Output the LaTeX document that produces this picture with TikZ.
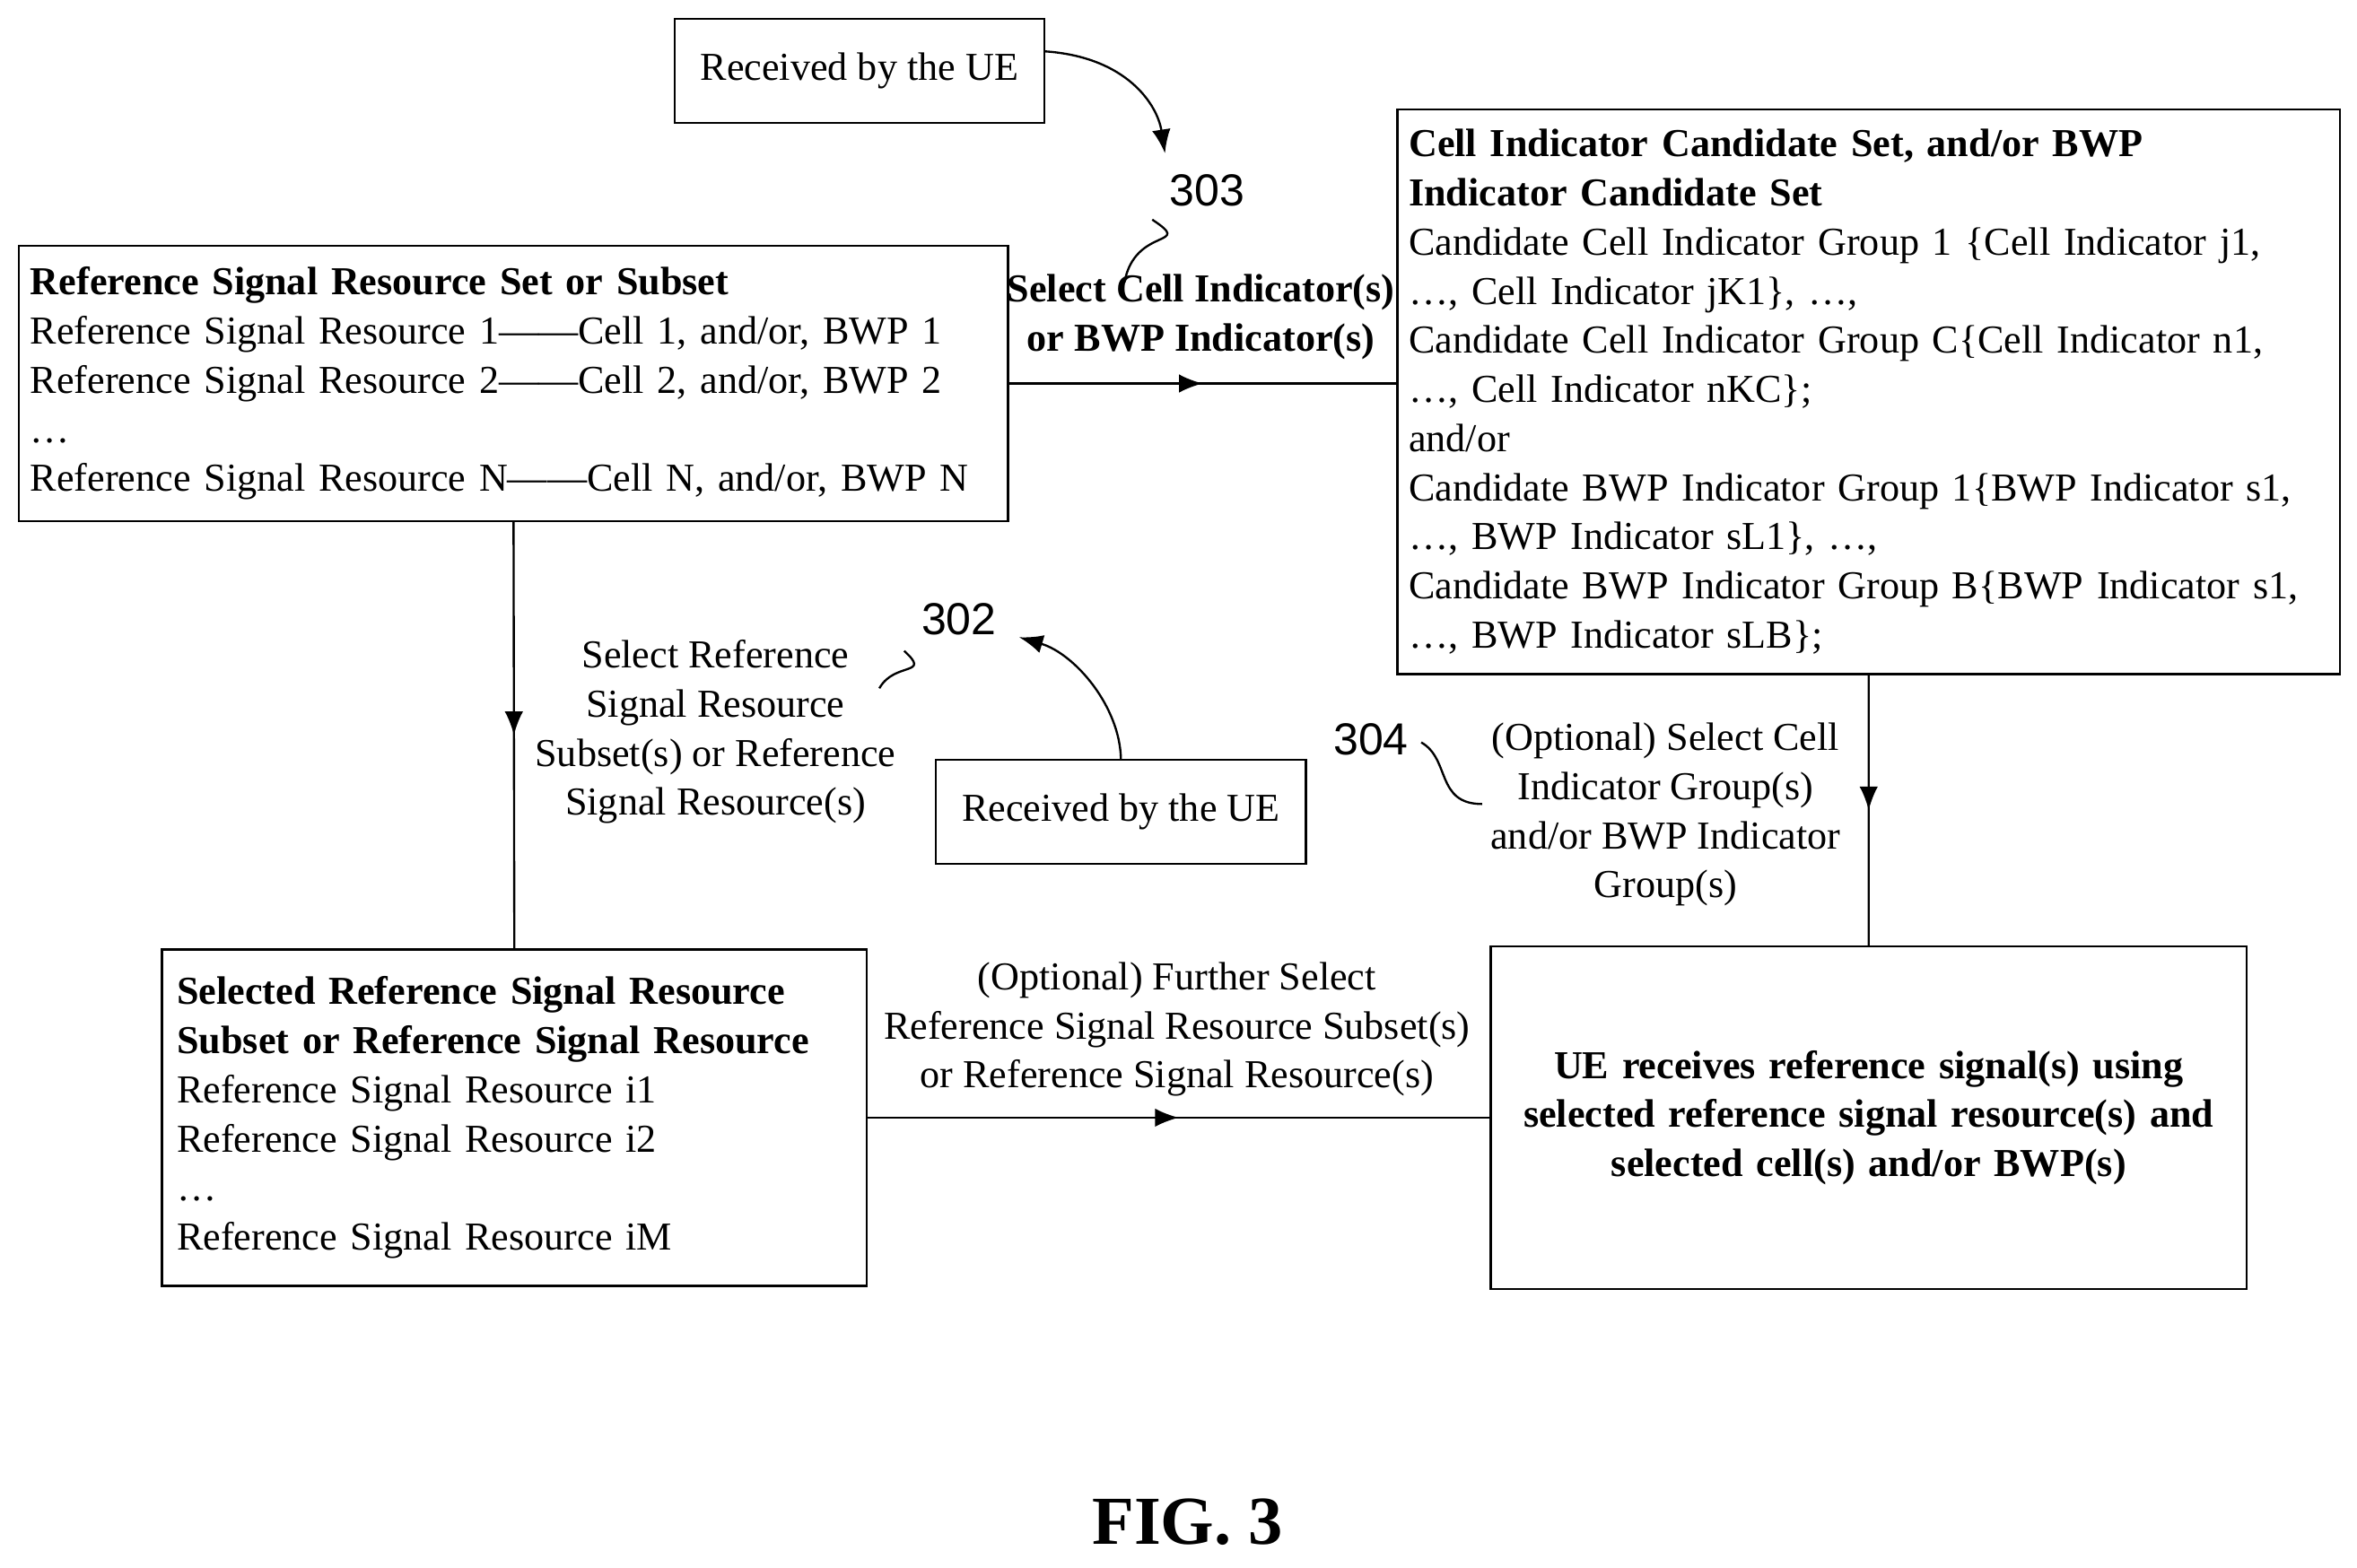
\documentclass[tikz,border=0pt]{standalone}
\usepackage{fontspec}
\setmainfont{Liberation Serif}
\setsansfont{Liberation Sans}
\usetikzlibrary{arrows.meta,decorations.markings}
\begin{document}
\begin{tikzpicture}[x=0.02cm,y=-0.02cm,line width=0.8pt,
    font=\fontsize{15}{18.6}\selectfont,
    box/.style={draw,anchor=north west,align=left,inner ysep=0pt},
    ue/.style={draw,anchor=north west,align=center,minimum width=4.92cm,minimum height=1.38cm},
    flow/.style={decoration={markings,mark=at position 0.5 with {\arrow{Latex[length=9pt,width=7pt]}}},postaction=decorate},
    lbl/.style={align=center,inner sep=1pt},
    num/.style={font=\sffamily\fontsize{17}{20}\selectfont}]
    \useasboundingbox (0,0) rectangle (1568,1043);

    % Boxes
    \node[box,text width=12.86cm,minimum height=3.66cm,inner xsep=0.15cm] (refset) at (12,163)
        {\textbf{Reference Signal Resource Set or Subset}\\
         Reference Signal Resource 1------Cell 1, and/or, BWP 1\\
         Reference Signal Resource 2------Cell 2, and/or, BWP 2\\
         \dots\\
         Reference Signal Resource N------Cell N, and/or, BWP N};
    \node[box,text width=12.24cm,minimum height=7.52cm,inner xsep=0.15cm] (cellset) at (929,72)
        {\textbf{Cell Indicator Candidate Set, and/or BWP}\\
         \textbf{Indicator Candidate Set}\\
         Candidate Cell Indicator Group 1 \{Cell Indicator j1,\\
         \dots, Cell Indicator jK1\}, \dots,\\
         Candidate Cell Indicator Group C\{Cell Indicator n1,\\
         \dots, Cell Indicator nKC\};\\
         and/or\\
         Candidate BWP Indicator Group 1\{BWP Indicator s1,\\
         \dots, BWP Indicator sL1\}, \dots,\\
         Candidate BWP Indicator Group B\{BWP Indicator s1,\\
         \dots, BWP Indicator sLB\};};
    \node[box,text width=8.98cm,minimum height=4.48cm,inner xsep=0.2cm] (selected) at (107,631)
        {\textbf{Selected Reference Signal Resource}\\
         \textbf{Subset or Reference Signal Resource}\\
         Reference Signal Resource i1\\
         Reference Signal Resource i2\\
         \dots\\
         Reference Signal Resource iM};
    \node[box,align=center,text width=9.66cm,minimum height=4.56cm,inner xsep=0.2cm] (uerx) at (991,629)
        {\textbf{UE receives reference signal(s) using}\\
         \textbf{selected reference signal resource(s) and}\\
         \textbf{selected cell(s) and/or BWP(s)}};
    \node[ue] (rxtop) at (448,12) {Received by the UE};
    \node[ue] (rxmid) at (622,505) {Received by the UE};

    % Connectors
    \draw[flow] (refset.east) -- (cellset.west |- refset.east);
    \draw[flow] (refset.south) -- (selected.north);
    \draw[flow] (cellset.south) -- (uerx.north);
    \draw[flow] (selected.east) -- (uerx.west |- selected.east);

    % Labels
    \node[lbl] (lcell) at (799,211) {\textbf{Select Cell Indicator(s)}\\\textbf{or BWP Indicator(s)}};
    \node[lbl] (lref) at (476,487) {Select Reference\\Signal Resource\\Subset(s) or Reference\\Signal Resource(s)};
    \node[lbl] (lgrp) at (1108,542) {(Optional) Select Cell\\Indicator Group(s)\\and/or BWP Indicator\\Group(s)};
    \node[lbl] (lfur) at (783,685) {(Optional) Further Select\\Reference Signal Resource Subset(s)\\or Reference Signal Resource(s)};

    % Step numbers
    \node[num] (n303) at (803,127) {303};
    \node[num] (n302) at (638,412) {302};
    \node[num] (n304) at (912,492) {304};
    \draw (n303.south west) ++(-5,2) .. controls (795,165) and (755,150) .. (748,188);
    \draw (n302.south west) ++(-5,4) .. controls (620,450) and (595,440) .. (585,458);
    \draw (n304.east) ++(2,2) .. controls (965,505) and (955,535) .. (986,535);
    \draw[-{Latex[length=9pt,width=7pt]}] (rxtop.east) ++(0,-13) .. controls (750,38) and (770,70) .. (775,102);
    \draw[-{Latex[length=9pt,width=7pt]}] (rxmid.north) ++(0,0) .. controls (745,470) and (715,435) .. (678,424);

    \node[font=\bfseries\fontsize{26}{30}\selectfont] (fig) at (790,1013) {FIG. 3};
\end{tikzpicture}
\end{document}
